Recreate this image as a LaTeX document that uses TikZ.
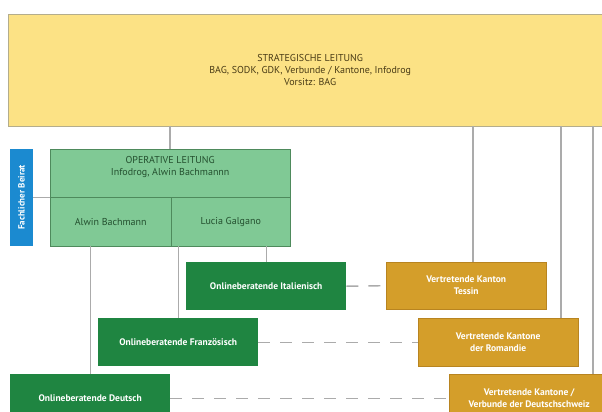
\documentclass[tikz,border=0pt]{standalone}
\usepackage{fontspec}
\setmainfont{PT Sans}
\definecolor{stratgelb}{HTML}{FCE285}
\definecolor{stratrand}{HTML}{B4AD8C}
\definecolor{stratschrift}{HTML}{4A3C16}
\definecolor{opgruen}{HTML}{80C995}
\definecolor{oprand}{HTML}{4E8A5C}
\definecolor{opschrift}{HTML}{24502F}
\definecolor{dunkelgruen}{HTML}{1F8541}
\definecolor{ocker}{HTML}{D49E2A}
\definecolor{ockerrand}{HTML}{B88420}
\definecolor{beiratblau}{HTML}{1B8AD0}
\definecolor{linie}{HTML}{ABABAB}
\tikzset{
  box/.style={inner sep=0pt, align=center, anchor=north west,
    font=\fontsize{10}{12}\selectfont},
  strat/.style={box, draw=stratrand, fill=stratgelb, text=stratschrift},
  op/.style={box, draw=oprand, fill=opgruen, text=opschrift},
  online/.style={box, fill=dunkelgruen, text=white, minimum width=160, minimum height=48,
    font=\fontsize{9.5}{12}\selectfont\bfseries},
  kanton/.style={online, draw=ockerrand, fill=ocker},
  link/.style={draw=linie, line width=1.4pt},
  dlink/.style={link, dash pattern=on 12pt off 10pt}
}

\begin{document}
\begin{tikzpicture}[x=1pt,y=-1pt]
\useasboundingbox (0,0) rectangle (602,412);
\clip (0,0) rectangle (602,412);
% strategische Ebene
\node[strat, minimum width=604, minimum height=112] (strat) at (8,14)
  {STRATEGISCHE LEITUNG\\BAG, SODK, GDK, Verbunde / Kantone, Infodrog\\Vorsitz: BAG};
% operative Ebene
\node[op, minimum width=240, minimum height=48] (opTop) at (50,149)
  {OPERATIVE LEITUNG\\Infodrog, Alwin Bachmannn\\[2pt]};
\node[op, minimum width=121, minimum height=49] (opA) at (50,197) {Alwin Bachmann};
\node[op, minimum width=119, minimum height=49] (opB) at (171,197) {Lucia Galgano};
\node[fill=beiratblau, text=white, inner sep=0pt, rotate=90, minimum width=97, minimum height=23,
  font=\fontsize{9}{10}\selectfont\bfseries] (beirat) at (21.5,197.5) {Fachlicher Beirat};
% Onlineberatende und Kantone
\node[online] (ital) at (186,262) {Onlineberatende Italienisch};
\node[online] (franz) at (98,318) {Onlineberatende Französisch};
\node[online] (deutsch) at (10,374) {Onlineberatende Deutsch};
\node[kanton, minimum height=47] (tessin) at (386,262) {Vertretende Kanton\\Tessin};
\node[kanton] (romandie) at (418,318) {Vertretende Kantone\\der Romandie};
\node[kanton] (dschweiz) at (449,374) {Vertretende Kantone /\\Verbunde der Deutschschweiz};
% Linien
\coordinate (sOp) at (170,126);
\coordinate (sT) at (473,126);
\coordinate (sR) at (561,126);
\coordinate (sD) at (593,126);
\draw[link] (sOp) -- (sOp |- opTop.north);
\draw[link] (sT) -- (sT |- tessin.north);
\draw[link] (sR) -- (sR |- romandie.north);
\draw[link] (sD) -- (sD |- dschweiz.north);
\draw[link] (beirat.south) -- (beirat.south -| opA.west);
\draw[link] (deutsch.north) -- (deutsch.north |- opA.south);
\draw[link] (franz.north) -- (franz.north |- opB.south);
\draw[link] (ital.north) -- (ital.north |- opB.south);
\draw[dlink] (ital.east) -- (tessin.west);
\draw[dlink] (franz.east) -- (romandie.west);
\draw[dlink] (deutsch.east) -- (dschweiz.west);
\end{tikzpicture}
\end{document}
